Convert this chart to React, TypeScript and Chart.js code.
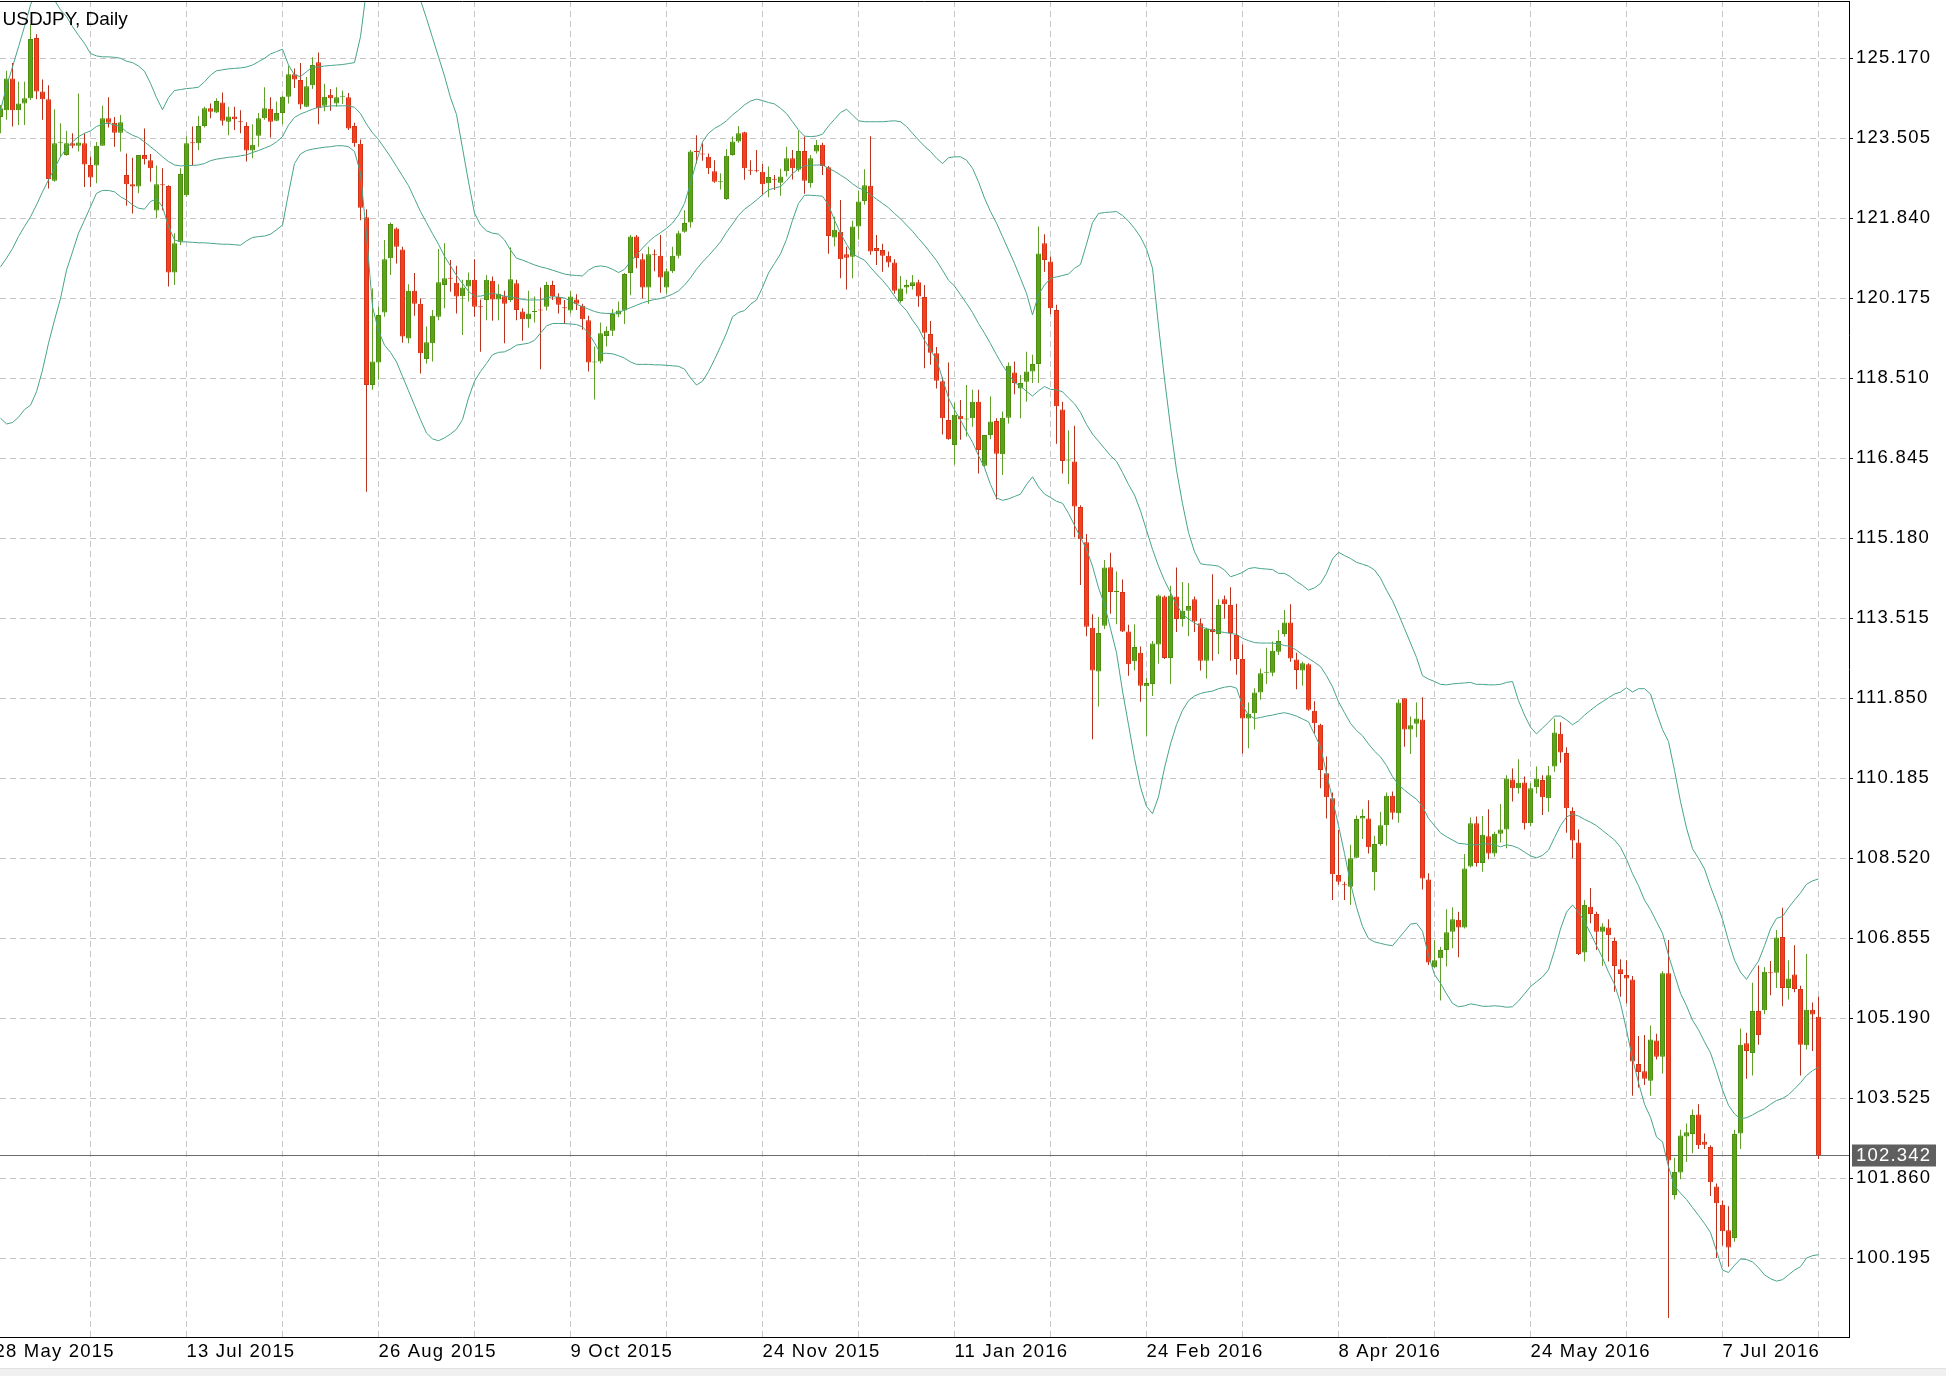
import React, { useEffect, useRef } from "react";
import { Chart, registerables } from "chart.js";

Chart.register(...registerables);

const chartTitle = "USDJPY, Daily";

// x-axis date labels and the bar index each one sits on
const dateLabels = ["28 May 2015", "13 Jul 2015", "26 Aug 2015", "9 Oct 2015", "24 Nov 2015", "11 Jan 2016", "24 Feb 2016", "8 Apr 2016", "24 May 2016", "7 Jul 2016"];
const dateLabelBars = [-1, 31, 63, 95, 127, 159, 191, 223, 255, 287];
const minorGridBars = [15, 47, 79, 111, 143, 175, 207, 239, 271, 303];

// price-axis tick labels
const priceTicks = [100.195, 101.86, 103.525, 105.19, 106.855, 108.52, 110.185, 111.85, 113.515, 115.18, 116.845, 118.51, 120.175, 121.84, 123.505, 125.17];

const opens = [
  123.95, 124.09, 124.75, 124.09, 124.23, 124.34, 125.59, 124.48, 124.32, 122.62,
  123.40, 123.16, 123.40, 123.35, 123.40, 122.95, 122.94, 123.35, 123.92, 123.83,
  123.62, 122.74, 122.55, 122.50, 123.16, 123.05, 122.00, 122.55, 122.51, 120.71,
  121.35, 122.32, 123.42, 123.40, 123.76, 124.13, 124.04, 124.25, 123.85, 123.96,
  123.86, 123.76, 123.25, 123.56, 123.92, 124.12, 123.87, 124.03, 124.37, 124.84,
  124.72, 124.16, 124.61, 125.09, 124.18, 124.41, 124.23, 124.37, 124.36, 123.76,
  123.39, 121.86, 118.37, 118.84, 119.88, 121.01, 121.63, 121.19, 119.34, 120.33,
  120.06, 118.91, 119.24, 119.79, 120.45, 120.60, 120.50, 120.22, 120.42, 120.56,
  120.00, 120.14, 120.54, 120.15, 120.22, 120.14, 120.49, 119.90, 119.74, 119.89,
  119.93, 120.00, 120.45, 120.20, 119.98, 119.92, 120.15, 120.02, 119.72, 118.84,
  118.86, 119.39, 119.50, 119.84, 119.92, 120.70, 121.46, 120.99, 120.40, 121.08,
  121.06, 120.40, 120.74, 121.06, 121.56, 121.75, 123.24, 123.19, 123.12, 122.82,
  122.59, 122.24, 123.16, 123.44, 123.63, 122.84, 122.84, 122.81, 122.57, 122.65,
  122.58, 122.82, 123.09, 122.85, 123.24, 122.57, 123.23, 123.37, 122.90, 121.44,
  121.56, 121.09, 121.04, 121.67, 122.20, 122.52, 121.22, 121.18, 121.06, 120.92,
  120.12, 120.40, 120.43, 120.51, 120.20, 119.43, 119.03, 118.45, 117.64, 117.12,
  117.73, 117.65, 117.68, 118.02, 116.69, 117.33, 117.62, 116.93, 117.69, 118.63,
  118.30, 118.44, 118.65, 118.81, 121.32, 120.94, 119.93, 117.86, 116.80, 116.78,
  115.83, 115.10, 113.32, 112.41, 113.36, 114.58, 114.06, 114.06, 113.24, 112.62,
  112.80, 112.10, 112.15, 112.97, 113.97, 112.69, 113.97, 113.50, 113.67, 113.91,
  113.41, 112.63, 113.30, 113.19, 113.91, 113.79, 113.17, 112.67, 111.43, 111.54,
  111.97, 112.38, 112.38, 112.82, 113.19, 113.43, 112.66, 112.43, 112.56, 111.59,
  111.30, 110.29, 109.77, 108.17, 107.97, 107.93, 108.53, 109.35, 109.35, 108.23,
  108.82, 109.21, 109.82, 109.46, 111.85, 111.20, 111.32, 111.41, 108.08, 106.25,
  106.44, 106.61, 106.99, 107.24, 107.08, 108.35, 109.25, 108.42, 108.98, 108.62,
  109.03, 109.12, 110.16, 109.98, 110.10, 109.25, 110.00, 110.15, 109.77, 110.43,
  111.11, 110.71, 109.51, 108.85, 106.56, 107.51, 107.36, 106.99, 107.08, 106.80,
  106.21, 106.09, 106.00, 104.24, 104.09, 103.89, 104.73, 104.39, 106.13, 101.51,
  101.98, 102.73, 102.78, 103.19, 102.62, 102.51, 101.69, 101.31, 100.78, 100.62,
  102.79, 104.67, 104.47, 105.34, 105.36, 106.15, 106.14, 106.88, 105.82, 106.10,
  105.80, 104.63, 105.37, 105.22,
];

const highs = [
  124.20, 124.91, 125.07, 124.68, 124.68, 125.88, 125.67, 124.73, 124.61, 124.11,
  123.82, 123.66, 123.61, 124.44, 123.61, 123.12, 123.43, 124.18, 124.36, 123.95,
  123.99, 123.19, 123.10, 123.16, 123.71, 123.18, 122.94, 122.88, 122.53, 121.53,
  122.88, 123.54, 123.75, 123.97, 124.16, 124.23, 124.34, 124.46, 124.16, 124.16,
  124.09, 123.84, 123.80, 124.03, 124.57, 124.36, 124.27, 124.39, 125.01, 124.96,
  125.07, 124.78, 125.19, 125.29, 124.64, 124.53, 124.57, 124.50, 124.45, 123.83,
  123.48, 122.03, 120.38, 120.00, 121.39, 121.75, 121.65, 121.25, 120.47, 120.70,
  120.17, 119.59, 119.93, 121.20, 121.32, 120.97, 120.85, 120.56, 120.71, 120.99,
  120.15, 120.66, 120.63, 120.47, 120.33, 121.24, 120.56, 119.97, 120.33, 120.21,
  120.40, 120.52, 120.54, 120.28, 120.14, 120.33, 120.26, 120.06, 119.81, 119.17,
  119.67, 119.59, 119.95, 120.11, 120.70, 121.49, 121.49, 121.11, 121.25, 121.19,
  121.49, 120.80, 121.25, 121.58, 122.01, 123.26, 123.57, 123.40, 123.19, 123.05,
  122.78, 123.28, 123.54, 123.76, 123.64, 123.05, 123.26, 122.97, 122.92, 122.74,
  122.87, 123.33, 123.26, 123.66, 123.54, 123.16, 123.47, 123.41, 122.93, 121.87,
  122.22, 121.25, 121.79, 122.42, 122.86, 123.55, 121.49, 121.31, 121.15, 120.99,
  120.64, 120.56, 120.66, 120.56, 120.45, 119.70, 119.16, 118.53, 118.84, 118.00,
  118.06, 118.37, 118.27, 118.27, 117.33, 118.13, 117.68, 117.82, 118.84, 118.86,
  118.58, 119.06, 119.00, 121.67, 121.51, 121.04, 120.04, 118.02, 117.43, 117.52,
  115.87, 115.27, 113.60, 113.54, 114.73, 114.88, 114.49, 114.32, 113.38, 113.39,
  112.93, 112.28, 113.04, 114.01, 113.99, 114.19, 114.57, 114.27, 114.25, 113.97,
  113.51, 113.32, 114.43, 113.91, 113.99, 114.16, 113.82, 112.97, 111.76, 112.06,
  112.47, 112.90, 113.03, 113.27, 113.69, 113.81, 112.80, 112.61, 112.58, 111.79,
  111.32, 110.64, 109.89, 109.11, 108.03, 108.80, 109.41, 109.54, 109.73, 108.99,
  109.49, 109.89, 109.91, 111.83, 111.85, 111.47, 111.76, 111.87, 108.21, 106.82,
  106.68, 107.46, 107.50, 107.41, 108.61, 109.37, 109.39, 109.40, 109.54, 109.07,
  109.65, 110.25, 110.39, 110.58, 110.22, 110.08, 110.43, 110.25, 110.44, 111.43,
  111.35, 110.83, 109.58, 109.12, 107.65, 107.90, 107.41, 107.17, 107.25, 106.87,
  106.42, 106.40, 106.07, 104.82, 104.84, 105.04, 104.87, 106.17, 106.82, 102.29,
  102.87, 103.00, 103.29, 103.40, 102.79, 102.55, 101.75, 101.40, 101.28, 102.87,
  104.98, 104.89, 105.93, 106.29, 106.26, 106.38, 107.03, 107.49, 106.40, 106.71,
  105.87, 106.53, 105.52, 105.64,
];

const lows = [
  123.61, 123.89, 123.75, 123.78, 123.78, 124.30, 124.32, 123.89, 122.46, 122.60,
  123.12, 123.14, 123.30, 123.23, 122.49, 122.49, 122.57, 123.35, 123.73, 123.33,
  123.23, 122.10, 121.94, 122.36, 122.96, 122.60, 121.84, 122.01, 120.42, 120.45,
  121.28, 122.29, 122.94, 123.26, 123.73, 123.92, 124.03, 123.77, 123.57, 123.68,
  123.61, 123.02, 123.09, 123.33, 123.89, 123.52, 123.86, 123.80, 124.23, 124.55,
  124.11, 124.15, 124.53, 123.80, 124.07, 124.08, 124.16, 124.22, 123.68, 123.33,
  121.80, 116.15, 118.27, 118.48, 119.79, 120.66, 120.90, 119.25, 119.24, 119.81,
  118.61, 118.82, 118.86, 119.72, 119.97, 120.31, 119.86, 119.41, 120.11, 119.79,
  119.06, 119.72, 119.71, 119.72, 119.24, 120.10, 119.72, 119.29, 119.56, 119.67,
  118.70, 119.92, 120.14, 119.86, 119.64, 119.86, 119.93, 119.52, 118.65, 118.07,
  118.82, 119.17, 119.39, 119.78, 119.64, 120.24, 120.80, 120.17, 120.06, 120.74,
  120.29, 120.27, 120.70, 121.01, 121.54, 121.65, 122.98, 123.04, 122.76, 122.58,
  122.44, 122.22, 123.14, 123.41, 122.64, 122.74, 122.80, 122.33, 122.28, 122.43,
  122.31, 122.71, 122.65, 122.81, 122.35, 122.48, 123.19, 122.74, 121.10, 121.26,
  120.59, 120.36, 120.59, 121.40, 122.12, 121.08, 120.87, 120.73, 120.82, 120.27,
  120.08, 120.27, 120.36, 120.00, 118.72, 118.79, 118.30, 117.34, 117.23, 116.71,
  117.23, 117.30, 117.50, 116.53, 116.67, 117.24, 115.99, 116.50, 117.57, 118.18,
  117.68, 118.02, 118.41, 118.41, 120.73, 119.85, 117.15, 116.53, 116.31, 115.20,
  114.21, 113.14, 111.00, 111.68, 113.29, 113.61, 113.39, 113.23, 112.32, 112.43,
  111.78, 111.07, 111.90, 112.57, 112.67, 112.15, 113.23, 113.34, 113.14, 113.23,
  112.43, 112.26, 112.63, 112.77, 113.51, 112.63, 112.34, 110.70, 110.81, 111.20,
  111.82, 112.15, 112.31, 112.75, 113.13, 112.61, 112.04, 112.11, 111.59, 111.12,
  109.98, 109.35, 107.65, 107.97, 107.65, 107.55, 108.52, 108.92, 108.62, 107.85,
  108.78, 108.78, 109.33, 109.26, 110.84, 110.69, 111.04, 107.87, 106.30, 106.23,
  105.56, 106.27, 106.65, 106.46, 107.06, 108.33, 108.35, 108.24, 108.50, 108.55,
  108.85, 108.73, 109.70, 109.87, 109.12, 109.19, 109.87, 109.42, 109.49, 110.32,
  110.51, 109.05, 108.52, 106.51, 106.37, 107.17, 106.61, 106.28, 106.37, 105.74,
  105.64, 105.50, 103.58, 103.75, 103.80, 103.58, 104.33, 104.04, 98.95, 101.42,
  101.84, 102.20, 102.38, 102.47, 102.47, 101.49, 100.20, 100.46, 100.02, 100.54,
  102.47, 103.93, 104.00, 104.64, 105.28, 105.67, 105.82, 105.44, 105.58, 105.73,
  104.00, 104.54, 104.51, 102.26,
];

const closes = [
  124.13, 124.75, 124.09, 124.23, 124.34, 125.57, 124.48, 124.32, 122.66, 123.40,
  123.42, 123.40, 123.35, 123.42, 122.96, 122.69, 123.35, 123.92, 123.83, 123.62,
  123.84, 122.55, 122.50, 123.16, 123.07, 122.88, 122.55, 122.53, 120.71, 121.32,
  122.76, 123.40, 123.40, 123.76, 124.13, 124.06, 124.28, 123.87, 123.96, 123.90,
  123.84, 123.25, 123.37, 123.92, 124.13, 123.85, 124.03, 124.37, 124.84, 124.73,
  124.21, 124.59, 125.03, 124.13, 124.37, 124.34, 124.36, 124.39, 123.71, 123.40,
  122.06, 118.37, 118.86, 119.83, 120.99, 121.72, 121.25, 119.38, 120.33, 120.06,
  119.03, 119.26, 119.81, 120.51, 120.59, 120.58, 120.21, 120.40, 120.56, 120.00,
  119.99, 120.56, 120.15, 120.27, 120.06, 120.57, 119.93, 119.74, 119.86, 119.90,
  119.92, 120.45, 120.22, 120.04, 119.97, 120.21, 120.06, 119.74, 118.84, 118.86,
  119.45, 119.50, 119.85, 119.92, 120.68, 121.46, 121.01, 120.40, 121.09, 121.07,
  120.61, 120.74, 121.06, 121.53, 121.74, 123.23, 123.22, 123.17, 122.88, 122.60,
  122.60, 123.14, 123.44, 123.61, 122.88, 122.83, 122.82, 122.55, 122.70, 122.64,
  122.71, 123.09, 122.88, 123.24, 122.62, 123.09, 123.37, 122.93, 121.47, 121.60,
  120.99, 121.02, 121.67, 122.19, 122.53, 121.15, 121.16, 121.06, 120.92, 120.33,
  120.38, 120.45, 120.51, 120.21, 119.46, 119.04, 118.46, 117.68, 117.24, 117.75,
  117.66, 117.66, 118.02, 117.02, 117.33, 117.61, 116.94, 117.69, 118.77, 118.41,
  118.41, 118.65, 118.81, 121.11, 120.97, 119.97, 117.93, 116.79, 116.81, 115.84,
  115.16, 113.34, 112.43, 113.21, 114.57, 114.06, 114.07, 113.24, 112.56, 112.92,
  112.11, 112.17, 112.99, 113.99, 112.69, 113.99, 113.50, 113.67, 113.77, 113.45,
  112.63, 113.30, 113.23, 113.79, 113.81, 113.21, 112.67, 111.43, 111.53, 111.97,
  112.37, 112.39, 112.84, 113.04, 113.43, 112.68, 112.44, 112.58, 111.61, 111.33,
  110.36, 109.79, 108.19, 108.03, 107.96, 108.52, 109.34, 109.40, 108.75, 108.82,
  109.21, 109.82, 109.47, 111.76, 111.20, 111.29, 111.43, 108.10, 106.35, 106.40,
  106.61, 106.98, 107.25, 107.08, 108.31, 109.25, 108.42, 109.01, 108.62, 109.03,
  109.12, 110.18, 109.98, 110.09, 109.25, 109.98, 110.18, 109.79, 110.25, 111.14,
  110.72, 109.56, 108.89, 106.53, 107.55, 107.36, 106.99, 107.10, 106.92, 106.28,
  106.11, 106.02, 104.29, 104.07, 103.93, 104.75, 104.39, 106.13, 102.23, 101.99,
  102.75, 102.82, 103.18, 102.55, 102.56, 101.78, 101.34, 100.76, 100.42, 102.78,
  104.64, 104.51, 105.34, 104.84, 106.16, 106.13, 106.87, 105.82, 106.02, 105.80,
  104.64, 105.37, 105.27, 102.342,
];

// Bollinger bands, one value per bar
const bbUpper = [
  124.09, 124.58, 124.99, 125.41, 125.83, 126.28, 126.6, 126.8, 126.6, 126.38,
  126.18, 126.04, 125.83, 125.65, 125.48, 125.27, 125.22, 125.20, 125.20, 125.19,
  125.17, 125.11, 125.08, 125.01, 124.9, 124.65, 124.35, 124.1, 124.35, 124.5,
  124.52, 124.54, 124.55, 124.57, 124.68, 124.82, 124.91, 124.93, 124.95, 124.96,
  124.97, 124.99, 125.03, 125.10, 125.17, 125.26, 125.31, 125.36, 125.03, 124.82,
  124.79, 124.89, 124.99, 124.99, 125.01, 125.02, 125.03, 125.04, 125.06, 125.08,
  125.62, 126.6, 127.2, 127.4, 127.5, 127.5, 127.4, 127.2, 127.0, 126.7,
  126.38, 126.0, 125.6, 125.2, 124.8, 124.35, 124.0, 123.3, 122.6, 121.95,
  121.7, 121.58, 121.53, 121.51, 121.39, 121.18, 121.01, 120.97, 120.92, 120.87,
  120.83, 120.80, 120.76, 120.72, 120.68, 120.66, 120.65, 120.64, 120.76, 120.83,
  120.85, 120.83, 120.78, 120.71, 120.78, 120.94, 121.08, 121.22, 121.35, 121.46,
  121.54, 121.63, 121.74, 121.91, 122.15, 122.57, 123.02, 123.43, 123.61, 123.71,
  123.78, 123.87, 123.99, 124.09, 124.2, 124.28, 124.32, 124.29, 124.25, 124.22,
  124.13, 124.02, 123.85, 123.68, 123.55, 123.54, 123.55, 123.59, 123.76, 123.90,
  124.04, 124.11, 123.99, 123.87, 123.85, 123.85, 123.85, 123.85, 123.86, 123.87,
  123.85, 123.75, 123.61, 123.47, 123.34, 123.23, 123.09, 122.98, 123.10, 123.12,
  123.12, 123.05, 122.88, 122.60, 122.26, 121.98, 121.74, 121.46, 121.18, 120.90,
  120.59, 120.28, 119.83, 120.25, 120.45, 120.59, 120.62, 120.65, 120.68, 120.80,
  120.88, 121.3, 121.75, 121.94, 121.96, 121.97, 121.98, 121.90, 121.78, 121.63,
  121.45, 121.2, 120.8, 119.6, 118.5, 117.5, 116.6, 115.9, 115.3, 114.9,
  114.65, 114.63, 114.62, 114.60, 114.52, 114.38, 114.42, 114.47, 114.55, 114.57,
  114.55, 114.54, 114.53, 114.45, 114.45, 114.38, 114.28, 114.2, 114.1, 114.15,
  114.24, 114.45, 114.75, 114.89, 114.82, 114.76, 114.68, 114.64, 114.6, 114.52,
  114.35, 114.1, 113.88, 113.6, 113.3, 113.0, 112.7, 112.32, 112.25, 112.2,
  112.14, 112.13, 112.15, 112.16, 112.17, 112.18, 112.14, 112.14, 112.13, 112.13,
  112.14, 112.18, 112.2, 111.8, 111.5, 111.25, 111.11, 111.23, 111.35, 111.48,
  111.48, 111.4, 111.3, 111.38, 111.5, 111.6, 111.7, 111.78, 111.86, 111.94,
  111.98, 112.07, 111.98, 112.05, 112.05, 111.94, 111.55, 111.2, 110.95, 110.35,
  109.7, 109.15, 108.72, 108.52, 108.3, 107.93, 107.6, 107.25, 106.8, 106.4,
  106.15, 106.0, 106.2, 106.38, 106.7, 107.05, 107.27, 107.31, 107.49, 107.65,
  107.8, 107.98, 108.05, 108.09,
];

const bbMiddle = [
  120.83, 121.01, 121.21, 121.46, 121.67, 121.87, 122.12, 122.39, 122.64, 122.88,
  123.12, 123.30, 123.43, 123.54, 123.61, 123.66, 123.75, 123.80, 123.82, 123.78,
  123.75, 123.64, 123.57, 123.52, 123.43, 123.33, 123.23, 123.12, 123.02, 122.95,
  122.93, 122.94, 122.94, 122.95, 122.98, 123.04, 123.07, 123.09, 123.11, 123.12,
  123.14, 123.16, 123.21, 123.25, 123.30, 123.35, 123.43, 123.54, 123.78, 123.94,
  124.01, 124.06, 124.11, 124.15, 124.16, 124.18, 124.18, 124.18, 124.18, 124.15,
  124.02, 123.8, 123.62, 123.48, 123.3, 123.12, 122.92, 122.72, 122.52, 122.25,
  121.98, 121.75, 121.52, 121.3, 121.05, 120.85, 120.65, 120.48, 120.32, 120.22,
  120.22, 120.25, 120.28, 120.25, 120.22, 120.21, 120.18, 120.15, 120.14, 120.14,
  120.14, 120.18, 120.21, 120.2, 120.18, 120.12, 120.05, 120.0, 119.95, 119.9,
  119.87, 119.86, 119.86, 119.88, 119.93, 119.98, 120.03, 120.08, 120.12, 120.15,
  120.17, 120.21, 120.26, 120.33, 120.45, 120.6, 120.78, 120.93, 121.06, 121.2,
  121.35, 121.55, 121.72, 121.9, 122.03, 122.12, 122.22, 122.33, 122.43, 122.47,
  122.5, 122.62, 122.77, 122.87, 122.93, 122.94, 122.95, 122.95, 122.88, 122.82,
  122.74, 122.66, 122.56, 122.47, 122.42, 122.33, 122.24, 122.15, 122.06, 121.94,
  121.83, 121.7, 121.57, 121.42, 121.28, 121.12, 120.96, 120.76, 120.55, 120.43,
  120.25, 120.07, 119.88, 119.65, 119.45, 119.23, 119.0, 118.78, 118.6, 118.42,
  118.35, 118.24, 118.14, 118.25, 118.34, 118.28, 118.27, 118.23, 118.1, 117.98,
  117.8, 117.55, 117.35, 117.2, 117.05, 116.9, 116.78, 116.55, 116.3, 116.08,
  115.75, 115.35, 114.95, 114.6, 114.3, 114.05, 113.8, 113.6, 113.5, 113.42,
  113.35, 113.3, 113.27, 113.24, 113.22, 113.2, 113.18, 113.1, 113.05, 113.01,
  113.0, 113.0, 113.0, 112.98, 112.95, 112.93, 112.85, 112.76, 112.68, 112.6,
  112.51, 112.32, 112.09, 111.78, 111.55, 111.33, 111.18, 111.07, 110.9, 110.75,
  110.63, 110.45, 110.22, 110.05, 109.94, 109.84, 109.75, 109.6, 109.35, 109.2,
  109.05, 108.97, 108.9, 108.83, 108.82, 108.8, 108.8, 108.82, 108.82, 108.8,
  108.76, 108.8, 108.78, 108.73, 108.65, 108.57, 108.53, 108.58, 108.69, 108.95,
  109.2, 109.38, 109.44, 109.4, 109.33, 109.27, 109.2, 109.1, 109.0, 108.9,
  108.75, 108.5, 108.2, 107.95, 107.65, 107.45, 107.2, 106.96, 106.5, 106.1,
  105.71, 105.45, 105.15, 104.95, 104.7, 104.47, 104.1, 103.7, 103.38, 103.2,
  103.1, 103.12, 103.18, 103.25, 103.31, 103.4, 103.48, 103.52, 103.6, 103.72,
  103.85, 104.0, 104.1, 104.17,
];

const bbLower = [
  117.68, 117.56, 117.59, 117.70, 117.86, 117.95, 118.23, 118.68, 119.24, 119.72,
  120.17, 120.76, 121.14, 121.53, 121.80, 122.08, 122.36, 122.42, 122.42, 122.39,
  122.29, 122.22, 122.12, 122.05, 122.03, 122.19, 122.24, 122.08, 121.67, 121.39,
  121.35, 121.35, 121.34, 121.33, 121.33, 121.32, 121.31, 121.30, 121.30, 121.29,
  121.28, 121.37, 121.44, 121.46, 121.47, 121.51, 121.60, 121.70, 122.36, 122.98,
  123.18, 123.25, 123.28, 123.30, 123.32, 123.33, 123.35, 123.35, 123.33, 123.23,
  122.78, 121.5, 120.0, 119.5, 119.2, 119.05, 118.85, 118.55, 118.25, 117.95,
  117.65, 117.37, 117.25, 117.21, 117.27, 117.35, 117.45, 117.65, 118.1, 118.45,
  118.65, 118.82, 119.0, 119.05, 119.06, 119.12, 119.2, 119.22, 119.24, 119.3,
  119.45, 119.6, 119.65, 119.65, 119.65, 119.64, 119.63, 119.58, 119.45, 119.25,
  119.03, 119.03, 119.02, 118.98, 118.93, 118.85, 118.8, 118.8, 118.8, 118.79,
  118.79, 118.78, 118.77, 118.76, 118.7, 118.52, 118.37, 118.45, 118.65, 118.9,
  119.17, 119.45, 119.79, 119.88, 119.92, 120.05, 120.14, 120.4, 120.7, 120.9,
  121.1, 121.4, 121.8, 122.15, 122.32, 122.32, 122.31, 122.30, 122.12, 121.8,
  121.53, 121.3, 121.1, 121.03, 120.97, 120.82, 120.68, 120.55, 120.4, 120.22,
  120.05, 119.92, 119.72, 119.55, 119.3, 119.1, 118.9, 118.5, 118.1, 117.85,
  117.64, 117.4, 117.18, 116.9, 116.65, 116.3, 116.02, 115.97, 116.0, 116.05,
  116.1, 116.3, 116.46, 116.25, 116.1, 116.03, 115.95, 115.91, 115.7, 115.45,
  115.2, 114.95, 114.6, 114.15, 113.8, 113.3, 112.8, 112.0, 111.3, 110.6,
  110.0, 109.6, 109.45, 109.8, 110.4, 110.9, 111.3, 111.6, 111.8, 111.9,
  111.95, 111.98, 112.0, 112.05, 112.08, 112.1, 112.06, 111.7, 111.5, 111.43,
  111.45, 111.48, 111.5, 111.53, 111.55, 111.52, 111.48, 111.42, 111.36, 111.1,
  110.84, 110.29, 109.75, 109.2, 108.62, 108.0, 107.5, 107.1, 106.85, 106.78,
  106.75, 106.72, 106.7, 106.85, 107.0, 107.15, 107.17, 107.0, 106.5, 106.1,
  105.92, 105.7, 105.5, 105.43, 105.45, 105.49, 105.47, 105.44, 105.44, 105.45,
  105.44, 105.42, 105.43, 105.55, 105.7, 105.85, 105.95, 106.05, 106.2, 106.6,
  107.05, 107.4, 107.55, 107.4, 107.2, 106.96, 106.7, 106.45, 106.15, 105.9,
  105.5, 104.95, 104.35, 103.85, 103.4, 103.13, 102.72, 102.62, 102.1, 101.7,
  101.55, 101.42, 101.25, 101.09, 100.92, 100.73, 100.35, 99.95, 99.9, 100.05,
  100.18, 100.17, 100.12, 100.0, 99.85, 99.77, 99.72, 99.75, 99.85, 99.95,
  100.02, 100.2, 100.25, 100.27,
];

const W = 1946;
const H = 1376;
const AXIS_W = 97;
const AXIS_H = 39;
const TOP_PAD = 1;
const BAR_PX = 6;
const PLOT_W = W - AXIS_W;
// vertical mapping: 125.170 sits at y=58.3, 80px per 1.665
const PX_PER_UNIT = 80 / 1.665;
const REF_PRICE = 125.17;
const REF_Y = 58.3;
const Y_MAX = REF_PRICE + (REF_Y - TOP_PAD) / PX_PER_UNIT;
const Y_MIN = REF_PRICE - (H - AXIS_H - REF_Y) / PX_PER_UNIT;
const X_MIN = -0.5 / BAR_PX;
const X_MAX = X_MIN + PLOT_W / BAR_PX;

const FONT_FAMILY = "'Liberation Sans', Arial, Helvetica, sans-serif";
const FONT_SIZE = 18.5;
const TITLE_SIZE = 19;
const LETTER_SPACING = "1.2px";
const UP_BODY = "#5ba318";
const UP_EDGE = "#4c8d12";
const DN_BODY = "#f4401f";
const DN_EDGE = "#d33419";
const UP_WICK = "#5f9f2a";
const DN_WICK = "#b8321d";
const BAND = "#46a48c";
const GRID = "#c6c6c6";

function zeroPadding(s: any) {
  s.paddingLeft = 0;
  s.paddingRight = 0;
  s.paddingTop = 0;
  s.paddingBottom = 0;
}

export default function App() {
  const canvasRef = useRef<HTMLCanvasElement | null>(null);

  useEffect(() => {
    const canvas = canvasRef.current;
    if (!canvas) return;
    const idx = closes.map((_, i) => i);
    const isUp = idx.map((i) => closes[i] >= opens[i]);
    const lastClose = closes[closes.length - 1];

    const overlay = {
      id: "mtOverlay",
      beforeDraw(chart: any) {
        try { chart.ctx.letterSpacing = LETTER_SPACING; } catch (e) {}
      },
      beforeDatasetsDraw(chart: any) {
        const { ctx, chartArea, scales } = chart;
        const y = Math.round(scales.y.getPixelForValue(lastClose)) + 0.5;
        ctx.save();
        ctx.strokeStyle = "#6b6b6b";
        ctx.lineWidth = 1;
        ctx.setLineDash([]);
        ctx.beginPath();
        ctx.moveTo(chartArea.left, y);
        ctx.lineTo(chartArea.right, y);
        ctx.stroke();
        ctx.restore();
      },
      afterDraw(chart: any) {
        const { ctx, chartArea, scales } = chart;
        ctx.save();
        // top frame line
        ctx.strokeStyle = "#000";
        ctx.lineWidth = 1;
        ctx.setLineDash([]);
        ctx.beginPath();
        ctx.moveTo(0, chartArea.top + 0.5);
        ctx.lineTo(chartArea.right + 0.5, chartArea.top + 0.5);
        ctx.stroke();
        // last price box
        const y = Math.round(scales.y.getPixelForValue(lastClose));
        ctx.fillStyle = "#5f5f5f";
        ctx.fillRect(chartArea.right + 3, y - 10.5, 84, 22);
        ctx.fillStyle = "#ffffff";
        ctx.font = `${FONT_SIZE}px ${FONT_FAMILY}`;
        ctx.textBaseline = "middle";
        ctx.textAlign = "left";
        try { ctx.letterSpacing = LETTER_SPACING; } catch (e) {}
        ctx.fillText(lastClose.toFixed(3), chartArea.right + 7, y + 0.5);
        // title
        try { ctx.letterSpacing = "0px"; } catch (e) {}
        ctx.font = `${TITLE_SIZE}px ${FONT_FAMILY}`;
        ctx.fillStyle = "#000";
        ctx.textBaseline = "alphabetic";
        ctx.fillText(chartTitle, 2.5, 25);
        ctx.restore();
      },
    };

    const tickFont = { family: FONT_FAMILY, size: FONT_SIZE };

    const chart = new Chart(canvas, {
      type: "bar",
      data: {
        datasets: [
          {
            type: "bar",
            data: idx.map((i) => ({ x: i, y: [lows[i], highs[i]] })),
            backgroundColor: isUp.map((u) => (u ? UP_WICK : DN_WICK)),
            borderWidth: 0,
            barThickness: 1,
            grouped: false,
            inflateAmount: 0,
            minBarLength: 1,
            order: 3,
          },
          {
            type: "bar",
            data: idx.map((i) => ({ x: i, y: [opens[i], closes[i]] })),
            backgroundColor: isUp.map((u) => (u ? UP_BODY : DN_BODY)),
            borderColor: isUp.map((u) => (u ? UP_EDGE : DN_EDGE)),
            borderWidth: 1,
            borderSkipped: false,
            barThickness: 5,
            grouped: false,
            inflateAmount: 0,
            minBarLength: 1,
            order: 2,
          },
          {
            type: "line",
            data: bbUpper.map((v, i) => ({ x: i, y: v })),
            borderColor: BAND,
            borderWidth: 1,
            pointRadius: 0,
            tension: 0,
            fill: false,
            order: 1,
          },
          {
            type: "line",
            data: bbMiddle.map((v, i) => ({ x: i, y: v })),
            borderColor: BAND,
            borderWidth: 1,
            pointRadius: 0,
            tension: 0,
            fill: false,
            order: 1,
          },
          {
            type: "line",
            data: bbLower.map((v, i) => ({ x: i, y: v })),
            borderColor: BAND,
            borderWidth: 1,
            pointRadius: 0,
            tension: 0,
            fill: false,
            order: 1,
          },
        ] as any,
      },
      options: {
        responsive: false,
        maintainAspectRatio: false,
        devicePixelRatio: 1,
        animation: false,
        events: [],
        layout: { padding: { top: TOP_PAD, left: 0, right: 0, bottom: 0 }, autoPadding: false },
        plugins: {
          legend: { display: false },
          tooltip: { enabled: false },
          title: { display: false },
        },
        scales: {
          x: {
            type: "linear",
            position: "bottom",
            min: X_MIN,
            max: X_MAX,
            offset: false,
            afterFit: (s: any) => { s.height = AXIS_H; zeroPadding(s); },
            afterBuildTicks: (s: any) => {
              s.ticks = [...dateLabelBars, ...minorGridBars].sort((a, b) => a - b).map((v) => ({ value: v }));
            },
            ticks: {
              autoSkip: false,
              maxRotation: 0,
              minRotation: 0,
              align: "start",
              padding: 4,
              color: "#000",
              font: tickFont,
              callback: (v: any) => {
                const k = dateLabelBars.indexOf(Number(v));
                return k >= 0 ? dateLabels[k] : "";
              },
            },
            grid: { color: GRID, lineWidth: 1, drawTicks: false, offset: false },
            border: { display: true, color: "#000", width: 1, dash: [6, 4] },
          },
          y: {
            type: "linear",
            position: "right",
            min: Y_MIN,
            max: Y_MAX,
            beginAtZero: false,
            afterFit: (s: any) => { s.width = AXIS_W; zeroPadding(s); },
            afterBuildTicks: (s: any) => {
              s.ticks = priceTicks.map((v) => ({ value: v }));
            },
            ticks: {
              autoSkip: false,
              padding: 3,
              color: "#000",
              font: tickFont,
              callback: (v: any) => Number(v).toFixed(3),
            },
            grid: { color: GRID, lineWidth: 1, drawTicks: true, tickLength: 4, tickColor: "#000", tickBorderDash: [] },
            border: { display: true, color: "#000", width: 1, dash: [6, 4] },
          },
        },
      } as any,
      plugins: [overlay as any],
    });

    return () => {
      chart.destroy();
    };
  }, []);

  return (
    <div style={{ position: "fixed", left: 0, top: 0, width: W, height: H, background: "#ffffff", overflow: "hidden" }}>
      <div style={{ position: "absolute", left: 0, top: 1368, width: W, height: 8, background: "#f0f0f0", borderTop: "1px solid #e3e3e3" }} />
      <canvas ref={canvasRef} width={W} height={H} style={{ position: "absolute", left: 0, top: 0, width: W, height: H, display: "block" }} />
    </div>
  );
}
